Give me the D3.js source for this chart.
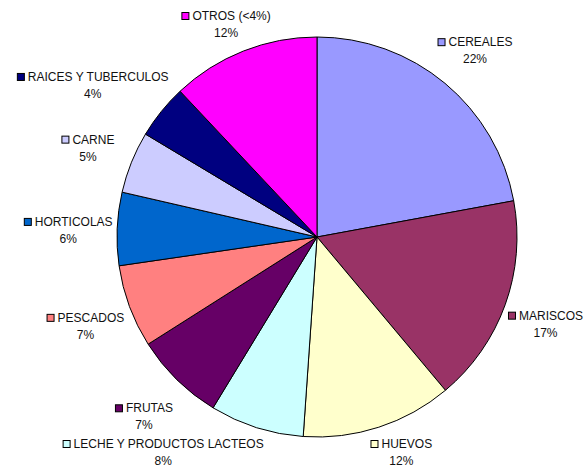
<!DOCTYPE html>
<html>
<head>
<meta charset="utf-8">
<script src="https://cdn.jsdelivr.net/npm/d3@7"></script>
<style>
  body { margin: 0; background: #fff; }
  text { font-family: "Liberation Sans Narrow", "Arial Narrow", "Liberation Sans", Arial, sans-serif; font-size: 12px; fill: #111; }
</style>
</head>
<body>
<div id="chart"></div>
<script>
// data (share of each group, clockwise from 12 o'clock)
const categories = ["CEREALES", "MARISCOS", "HUEVOS", "LECHE Y PRODUCTOS LACTEOS", "FRUTAS",
    "PESCADOS", "HORTICOLAS", "CARNE", "RAICES Y TUBERCULOS", "OTROS (<4%)"];
const values = [22.1, 16.8, 12.2, 7.6, 7.3, 6.7, 5.9, 5.0, 4.4, 12.0];
const colors = ["#9999FF", "#993366", "#FFFFCC", "#CCFFFF", "#660066",
    "#FF8080", "#0066CC", "#CCCCFF", "#000080", "#FF00FF"];

const width = 586, height = 468;
const cx = 317, cy = 237, radius = 200;

const svg = d3.select("#chart")
    .append("svg")
    .attr("width", width)
    .attr("height", height);

const g = svg.append("g")
    .attr("transform", "translate(" + cx + "," + cy + ")");

const total = d3.sum(values);
const pie = d3.pie().sort(null).value(d => d.value);
const arcs = pie(categories.map((c, i) => ({ name: c, value: values[i], color: colors[i] })));

const arc = d3.arc().innerRadius(0).outerRadius(radius);

g.selectAll("path.slice")
    .data(arcs)
    .enter()
    .append("path")
    .attr("class", "slice")
    .attr("d", arc)
    .attr("fill", d => d.data.color)
    .attr("stroke", "#000")
    .attr("stroke-width", 1);

/* Labels */

const labelR = 247;
const box = 8, gap = 3, lineH = 17;

const labels = g.selectAll("g.label")
    .data(arcs)
    .enter()
    .append("g")
    .attr("class", "label");

labels.each(function (d) {
    const lg = d3.select(this);
    const name = lg.append("text").attr("x", box + gap).attr("y", 0).text(d.data.name);
    const w = box + gap + name.node().getComputedTextLength();
    lg.append("rect")
        .attr("x", 0.5).attr("y", -box + 0.5)
        .attr("width", box - 1).attr("height", box - 1)
        .attr("fill", d.data.color)
        .attr("stroke", "#000");
    lg.append("text")
        .attr("x", w / 2).attr("y", lineH)
        .attr("text-anchor", "middle")
        .text(Math.round(d.value / total * 100) + "%");

    // block centre on the mid angle, then kept inside the window
    const a = (d.startAngle + d.endAngle) / 2;
    let x = Math.sin(a) * labelR, y = -Math.cos(a) * labelR;
    const h = 30;
    y = Math.max(-cy + 6 + h / 2, Math.min(height - cy - 4 - h / 2, y));
    const keepX = () => { x = Math.max(-cx + 4 + w / 2, Math.min(width - cx - 3 - w / 2, x)); };
    keepX();
    // push sideways until the block clears the pie
    const clear = () => {
        const nx = Math.max(x - w / 2, Math.min(x + w / 2, 0));
        const ny = Math.max(y - h / 2, Math.min(y + h / 2, 0));
        return Math.hypot(nx, ny) > radius + 4;
    };
    const dir = Math.sin(a) < 0 ? -1 : 1;
    let n = 0;
    while (!clear() && n < 200) { x += dir; n++; }
    keepX();
    lg.attr("transform", "translate(" + (x - w / 2) + "," + (y - h / 2 + 14) + ")");
});
</script>
</body>
</html>
